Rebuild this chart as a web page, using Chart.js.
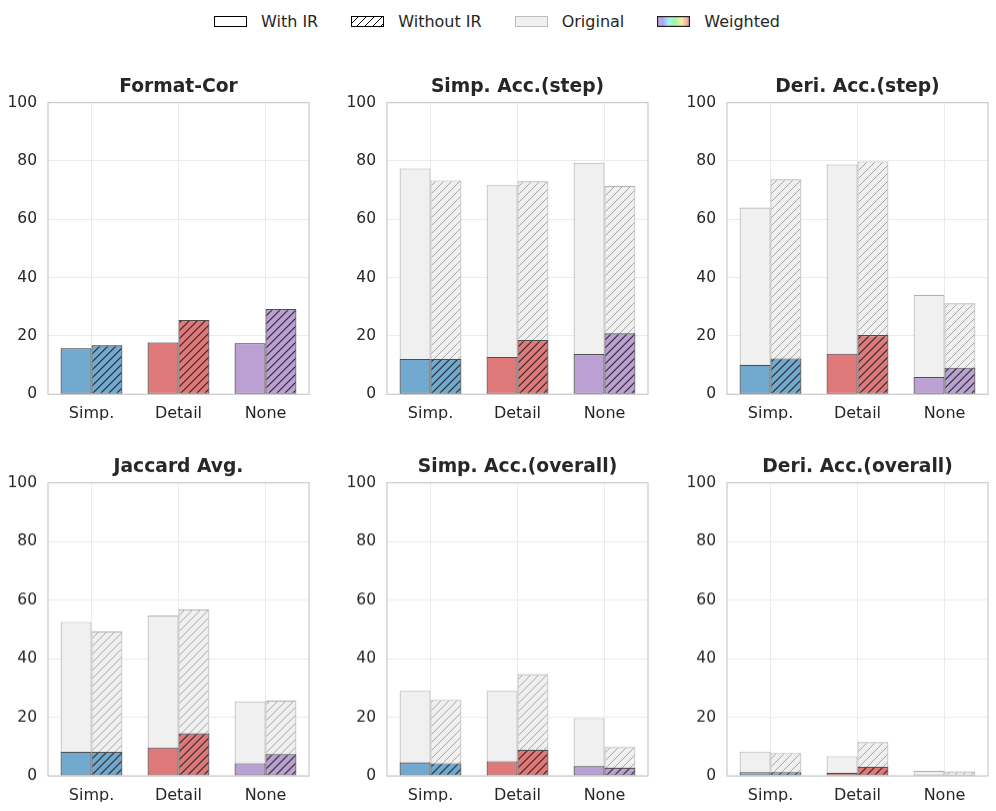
<!DOCTYPE html>
<html>
<head>
<meta charset="utf-8">
<script src="https://cdn.jsdelivr.net/npm/chart.js@4.4.1/dist/chart.umd.min.js"></script>
<style>
	html, body { margin: 0; padding: 0; background: #fff; overflow: hidden; }
	body { width: 996px; height: 811px; position: relative; font-family: "DejaVu Sans", sans-serif; color: #262626; }
	.legend { position: absolute; top: 12px; left: -1px; width: 996px; display: flex; justify-content: center; align-items: center; font-size: 16px; }
	.legend__item { display: flex; align-items: center; margin-right: 33px; }
	.legend__item:last-child { margin-right: 0; }
	.legend__item canvas { margin-right: 14px; }
	.panel { position: absolute; width: 316px; }
</style>
</head>
<body>
<div class="legend" id="legend"></div>

<script>
const categories = ['Simp.', 'Detail', 'None'];
const metricTitles = ['Format-Cor', 'Simp. Acc.(step)', 'Deri. Acc.(step)', 'Jaccard Avg.', 'Simp. Acc.(overall)', 'Deri. Acc.(overall)'];
const yTicks = [0, 20, 40, 60, 80, 100];

// one row per metric, values for Simp. / Detail / None
const originalWithIR = [
	[15.8, 17.8, 17.5],
	[77.4, 71.7, 79.4],
	[64.0, 78.8, 34.1],
	[52.5, 54.7, 25.4],
	[29.0, 29.0, 19.7],
	[8.3, 6.7, 1.7]
];
const originalWithoutIR = [
	[16.8, 25.5, 29.2],
	[73.3, 73.0, 71.4],
	[73.7, 79.8, 31.2],
	[49.3, 56.8, 25.7],
	[25.9, 34.7, 9.8],
	[7.8, 11.5, 1.5]
];
const weightedWithIR = [
	[15.8, 17.8, 17.5],
	[12.1, 12.8, 13.8],
	[10.1, 13.9, 5.9],
	[8.2, 9.7, 4.3],
	[4.6, 5.0, 3.3],
	[1.3, 1.1, 0.3]
];
const weightedWithoutIR = [
	[16.8, 25.5, 29.2],
	[12.1, 18.6, 20.9],
	[12.3, 20.3, 9.1],
	[8.2, 14.5, 7.4],
	[4.3, 8.9, 2.8],
	[1.3, 3.1, 0.3]
];

const catColors = ['#72a9cf', '#e07a7a', '#bba0d3'];
const originalFill = '#f0f0f0';
const originalEdge = '#b0b0b0';
const weightedEdge = '#4d4d4d';

Chart.defaults.font.family = '"DejaVu Sans", sans-serif';
Chart.defaults.color = '#262626';

function makeHatch(bg, lineColor, width) {
	const s = 8;
	const c = document.createElement('canvas');
	c.width = s; c.height = s;
	const g = c.getContext('2d');
	g.fillStyle = bg;
	g.fillRect(0, 0, s, s);
	g.strokeStyle = lineColor;
	g.lineWidth = width || 1;
	g.beginPath();
	g.moveTo(0, s); g.lineTo(s, 0);
	g.moveTo(-1, 1); g.lineTo(1, -1);
	g.moveTo(s - 1, s + 1); g.lineTo(s + 1, s - 1);
	g.stroke();
	return g.createPattern(c, 'repeat');
}

const hatchColors = catColors.map(c => makeHatch(c, 'rgba(30,30,30,0.9)', 1.2));
const hatchOriginal = makeHatch(originalFill, '#a6a6a6', 1);

// box round the plot area like the matplotlib spines, title centred on the plot
const spinesPlugin = {
	id: 'spines',
	afterDatasetsDraw(chart) {
		const {ctx, chartArea} = chart;
		ctx.save();
		ctx.strokeStyle = '#cccccc';
		ctx.lineWidth = 1.25;
		ctx.strokeRect(chartArea.left, chartArea.top, chartArea.right - chartArea.left, chartArea.bottom - chartArea.top);
		ctx.fillStyle = '#262626';
		ctx.font = 'bold 18.7px "DejaVu Sans", sans-serif';
		ctx.textAlign = 'center';
		ctx.textBaseline = 'middle';
		ctx.fillText(chart.options.panelTitle, (chartArea.left + chartArea.right) / 2, chartArea.top - 15);
		ctx.restore();
	}
};

const panelLefts = [0, 339.3, 678.7];
const panelTops = [70, 450];

metricTitles.forEach((title, m) => {
	const div = document.createElement('div');
	div.className = 'panel';
	div.style.left = panelLefts[m % 3] + 'px';
	div.style.top = panelTops[Math.floor(m / 3)] + 'px';
	div.style.height = (m < 3 ? 350 : 350.7) + 16 + 'px';
	const canvas = document.createElement('canvas');
	div.appendChild(canvas);
	document.body.appendChild(div);

	const common = {
		borderWidth: 1.1,
		borderSkipped: false,
		barPercentage: 1,
		categoryPercentage: 0.71
	};

	new Chart(canvas.getContext('2d'), {
		type: 'bar',
		data: {
			labels: categories,
			datasets: [
				{...common, label: 'Weighted with IR', stack: 'with', data: weightedWithIR[m], backgroundColor: catColors, borderColor: weightedEdge},
				{...common, label: 'Weighted without IR', stack: 'without', data: weightedWithoutIR[m], backgroundColor: hatchColors, borderColor: weightedEdge},
				{...common, label: 'Original with IR', stack: 'with', data: originalWithIR[m], backgroundColor: originalFill, borderColor: originalEdge},
				{...common, label: 'Original without IR', stack: 'without', data: originalWithoutIR[m], backgroundColor: hatchOriginal, borderColor: originalEdge}
			]
		},
		options: {
			panelTitle: title,
			responsive: true,
			maintainAspectRatio: false,
			animation: false,
			layout: { padding: { left: 0, right: 7, top: 32.6, bottom: 16 } },
			plugins: {
				legend: { display: false },
				tooltip: { enabled: false },
				title: { display: false }
			},
			scales: {
				x: {
					stacked: true,
					grid: { offset: false, color: '#ebebeb', drawTicks: false },
					border: { display: false },
					ticks: { font: { size: 16 }, color: '#262626', padding: 10 },
					afterFit: s => { s.height = 25.7; }
				},
				y: {
					stacked: false,
					min: 0,
					max: 100,
					grid: { color: '#ebebeb', drawTicks: false },
					border: { display: false },
					afterBuildTicks: s => { s.ticks = yTicks.map(v => ({value: v})); },
					ticks: { font: { size: 15.5 }, color: '#262626', padding: 11 },
					afterFit: s => { s.width = 48; }
				}
			}
		},
		plugins: [spinesPlugin]
	});
});

// legend built by hand, swatches drawn on small canvases
function swatch(draw) {
	const c = document.createElement('canvas');
	c.width = 33; c.height = 11;
	draw(c.getContext('2d'), 33, 11);
	return c;
}

const legendItems = [
	['With IR', (g, w, h) => {
		g.fillStyle = '#fff'; g.fillRect(0, 0, w, h);
		g.strokeStyle = '#000'; g.lineWidth = 1; g.strokeRect(0.5, 0.5, w - 1, h - 1);
	}],
	['Without IR', (g, w, h) => {
		g.fillStyle = makeHatch('#fff', '#000', 1); g.fillRect(0, 0, w, h);
		g.strokeStyle = '#000'; g.lineWidth = 1; g.strokeRect(0.5, 0.5, w - 1, h - 1);
	}],
	['Original', (g, w, h) => {
		g.fillStyle = originalFill; g.fillRect(0, 0, w, h);
		g.strokeStyle = '#bdbdbd'; g.lineWidth = 1; g.strokeRect(0.5, 0.5, w - 1, h - 1);
	}],
	['Weighted', (g, w, h) => {
		const n = 11;
		for (let i = 0; i < n; i++) {
			g.fillStyle = `hsl(${270 - i * 27}, 75%, 80%)`;
			g.fillRect(1 + i * (w - 2) / n, 0, (w - 2) / n + 0.5, h);
		}
		g.strokeStyle = '#222'; g.lineWidth = 1.2; g.strokeRect(0.6, 0.6, w - 1.2, h - 1.2);
	}]
];

const legendEl = document.getElementById('legend');
legendItems.forEach(([label, draw]) => {
	const item = document.createElement('div');
	item.className = 'legend__item';
	item.appendChild(swatch(draw));
	const span = document.createElement('span');
	span.textContent = label;
	item.appendChild(span);
	legendEl.appendChild(item);
});
</script>
</body>
</html>
